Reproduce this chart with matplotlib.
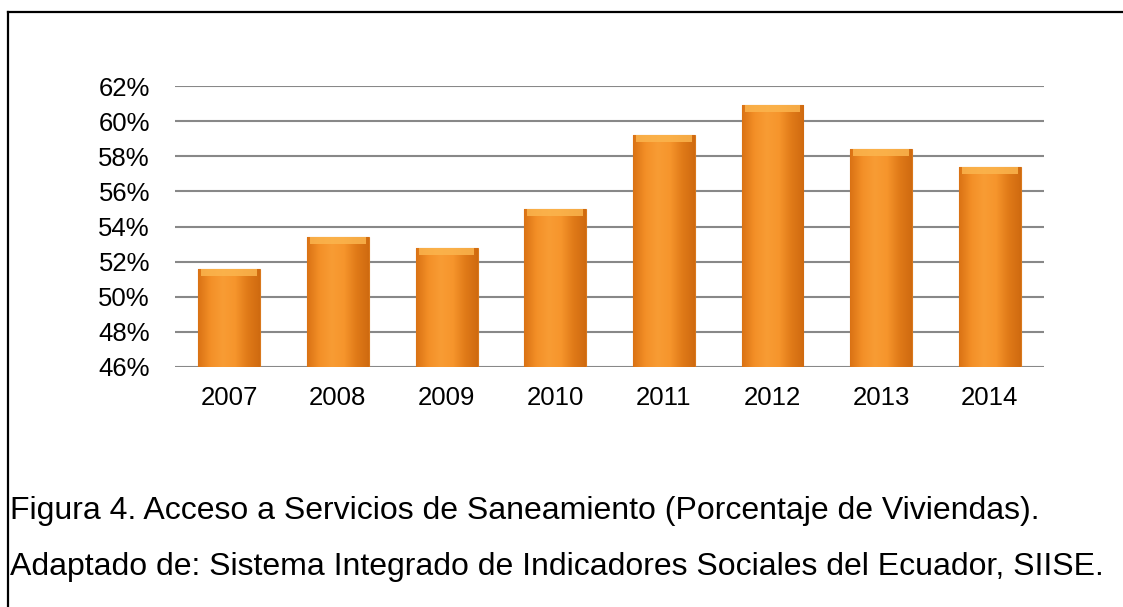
import numpy as np
import matplotlib.pyplot as plt
from matplotlib.colors import LinearSegmentedColormap
from matplotlib.lines import Line2D

years = ["2007", "2008", "2009", "2010", "2011", "2012", "2013", "2014"]
values = [51.6, 53.4, 52.8, 55.0, 59.2, 60.9, 58.4, 57.4]
yticks = [46, 48, 50, 52, 54, 56, 58, 60, 62]
caption1 = "Figura 4. Acceso a Servicios de Saneamiento (Porcentaje de Viviendas)."
caption2 = "Adaptado de: Sistema Integrado de Indicadores Sociales del Ecuador, SIISE."

plt.rcParams['font.family'] = ['Liberation Sans', 'DejaVu Sans']

fig = plt.figure(figsize=(11.23, 6.07), dpi=100)
ax = fig.add_axes([0.1558, 0.3954, 0.7739, 0.4629])

x = np.arange(len(years))
bars = ax.bar(x, [v - 46 for v in values], bottom=46, width=0.57,
              color="#F7962B", edgecolor="#D9781C", linewidth=0.8, zorder=3)

# soft horizontal gradient on each bar
cmap = LinearSegmentedColormap.from_list(
    "org", ["#DA7214", "#F38F27", "#F89C34", "#F6952C", "#E07A18", "#CF6A10"])
grad = np.linspace(0, 1, 256).reshape(1, -1)
for b in bars:
    x0, y0 = b.get_x(), b.get_y()
    w, h = b.get_width(), b.get_height()
    im = ax.imshow(grad, extent=[x0, x0 + w, y0, y0 + h], cmap=cmap,
                   aspect="auto", zorder=4)
    im.set_clip_path(b)
    # lighter top bevel
    ax.bar(x0 + w / 2, 0.4, bottom=y0 + h - 0.4, width=w * 0.9,
           color="#FBB54E", linewidth=0, zorder=5, alpha=0.85)

ax.set_xlim(-0.5, len(years) - 0.5)
ax.set_ylim(46, 62)
ax.set_yticks(yticks)
ax.set_yticklabels([f"{t}%" for t in yticks])
ax.set_xticks(x)
ax.set_xticklabels(years)
ax.yaxis.grid(True, color="#888888", linewidth=1.5, zorder=0)
ax.tick_params(axis="both", length=0, labelsize=18.5, colors="#000000")
ax.tick_params(axis="y", pad=18)
ax.tick_params(axis="x", pad=14)
for s in ax.spines.values():
    s.set_visible(False)

# frame lines (top and left)
fig.add_artist(Line2D([8 / 1123, 1.0], [1 - 12 / 607, 1 - 12 / 607],
                      color="black", linewidth=1.6, transform=fig.transFigure))
fig.add_artist(Line2D([8 / 1123, 8 / 1123], [1 - 12 / 607, 0.0],
                      color="black", linewidth=1.6, transform=fig.transFigure))

fig.text(10 / 1123, 1 - 519 / 607, caption1, fontsize=23, va="baseline", ha="left")
fig.text(10 / 1123, 1 - 575 / 607, caption2, fontsize=23, va="baseline", ha="left")

fig.savefig("out.png", dpi=100)
